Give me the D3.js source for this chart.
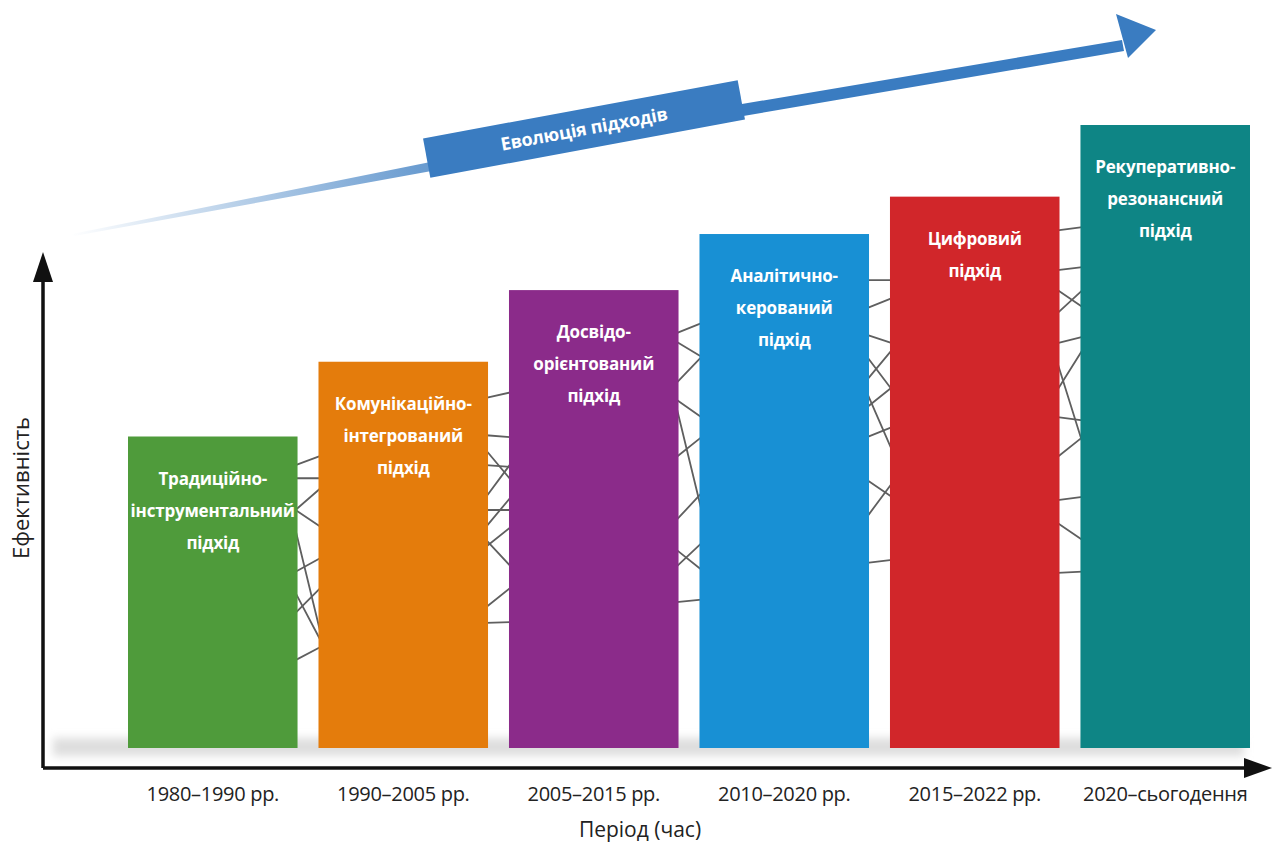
<!DOCTYPE html>
<html>
  <head>
    <meta charset="utf-8">
    <title>Еволюція підходів</title>
    <script src="https://d3js.org/d3.v7.min.js"></script>
    <style>
      body { margin: 0; background: #fff; }
      .bar-label { font-family: "Open Sans", sans-serif; font-weight: 700; font-size: 17px; letter-spacing: -0.2px; fill: #fff; }
      .tick text { font-family: "Open Sans", sans-serif; font-size: 20px; letter-spacing: -0.3px; fill: #222; }
      .axis-label { font-family: "Open Sans", sans-serif; font-size: 21px; fill: #222; }
    </style>
  </head>
  <body>
    <div id="chart"></div>
    <script>
      // Data
      const periods = ["1980–1990 рр.", "1990–2005 рр.", "2005–2015 рр.", "2010–2020 рр.", "2015–2022 рр.", "2020–сьогодення"];
      const approaches = [
        ["Традиційно-", "інструментальний", "підхід"],
        ["Комунікаційно-", "інтегрований", "підхід"],
        ["Досвідо-", "орієнтований", "підхід"],
        ["Аналітично-", "керований", "підхід"],
        ["Цифровий", "підхід"],
        ["Рекуперативно-", "резонансний", "підхід"]
      ];
      const efficiency = [50, 62, 73.5, 82.5, 88.5, 100];
      const palette = ["#4f9b3b", "#e47c0c", "#8b2b8a", "#1890d4", "#d1262a", "#0e8585"];

      // connecting lines in each gap: [efficiency at left bar, efficiency at right bar]
      const links = [
        [[45.4, 46.9], [43.3, 43.3], [38.2, 41.7], [38.2, 35.5], [28.3, 30.5], [35.0, 18.5], [21.7, 25.7], [24.9, 17.3], [14.1, 16.2]],
        [[56.2, 57.1], [50.2, 49.9], [45.4, 45.1], [47.8, 43.0], [40.3, 45.7], [38.2, 38.2], [35.5, 40.3], [32.3, 35.5], [33.4, 29.1], [22.6, 25.8], [20.1, 20.2]],
        [[66.6, 68.2], [65.2, 62.8], [58.6, 62.8], [55.9, 53.1], [54.7, 38.2], [46.7, 49.9], [36.6, 40.9], [31.8, 28.6], [29.1, 32.9], [23.4, 23.8]],
        [[75.1, 75.1], [70.6, 72.2], [66.3, 65.0], [59.1, 63.9], [62.8, 57.5], [54.7, 57.9], [49.9, 51.5], [57.0, 47.8], [43.0, 40.3], [37.1, 42.5], [29.7, 30.2]],
        [[83.1, 83.6], [76.7, 77.2], [69.8, 73.5], [73.5, 70.8], [65.0, 66.0], [57.5, 63.9], [61.8, 49.0], [53.1, 52.6], [46.7, 49.9], [39.8, 40.3], [36.1, 33.4], [28.1, 28.3]]
      ];

      const W = 1274, H = 843;
      const axisX = 43, axisY = 768;

      const svg = d3.select("#chart").append("svg")
        .attr("width", W)
        .attr("height", H);

      const defs = svg.append("defs");
      const blur = defs.append("filter").attr("id", "blur").attr("x", "-5%").attr("y", "-100%").attr("width", "110%").attr("height", "300%");
      blur.append("feGaussianBlur").attr("stdDeviation", 4);

      const grad = defs.append("linearGradient").attr("id", "evo")
        .attr("gradientUnits", "userSpaceOnUse")
        .attr("x1", 70).attr("y1", 232).attr("x2", 700).attr("y2", 110);
      grad.append("stop").attr("offset", 0).attr("stop-color", "#3a7cc1").attr("stop-opacity", 0);
      grad.append("stop").attr("offset", 0.55).attr("stop-color", "#3a7cc1").attr("stop-opacity", 0.75);
      grad.append("stop").attr("offset", 1).attr("stop-color", "#3a7cc1").attr("stop-opacity", 1);

      // Scales
      const x = d3.scaleBand()
        .domain(periods)
        .range([128, 1250])
        .paddingInner(0.11)
        .paddingOuter(0);
      const y = d3.scaleLinear().domain([0, 100]).range([748, 125]);
      const color = d3.scaleOrdinal().domain(periods).range(palette);

      // Floor shadow
      svg.append("rect")
        .attr("x", axisX + 10)
        .attr("y", y(0) - 10)
        .attr("width", W - axisX - 40)
        .attr("height", 18)
        .attr("fill", "#dedede")
        .attr("filter", "url(#blur)");

      // Connecting lines
      const linkG = svg.append("g").attr("stroke", "#5f5f5f").attr("stroke-width", 1.8).attr("stroke-linecap", "round");
      links.forEach((gap, i) => {
        const x0 = x(periods[i]) + x.bandwidth() - 2;
        const x1 = x(periods[i + 1]) + 2;
        linkG.selectAll(null)
          .data(gap)
          .enter()
          .append("line")
          .attr("x1", x0)
          .attr("y1", (d) => y(d[0]))
          .attr("x2", x1)
          .attr("y2", (d) => y(d[1]));
      });

      // Bars
      svg.selectAll("rect.bar")
        .data(periods)
        .enter()
        .append("rect")
        .attr("class", "bar")
        .attr("x", (d) => x(d))
        .attr("y", (d, i) => y(efficiency[i]))
        .attr("width", x.bandwidth())
        .attr("height", (d, i) => y(0) - y(efficiency[i]))
        .attr("fill", (d) => color(d));

      // Bar labels
      periods.forEach((p, i) => {
        const t = svg.append("text")
          .attr("class", "bar-label")
          .attr("text-anchor", "middle")
          .attr("x", x(p) + x.bandwidth() / 2)
          .attr("y", y(efficiency[i]) + 48);
        approaches[i].forEach((line, j) => {
          t.append("tspan")
            .attr("x", x(p) + x.bandwidth() / 2)
            .attr("dy", j === 0 ? 0 : 32)
            .text(line);
        });
      });

      // X axis labels
      const xAxis = svg.append("g")
        .attr("transform", `translate(0, ${axisY})`)
        .call(d3.axisBottom(x).tickSize(0).tickPadding(19));
      xAxis.select(".domain").remove();

      // Axis lines with arrowheads
      svg.append("path")
        .attr("d", `M${axisX},${axisY}H${W - 24}M${axisX},${axisY}V${y(0) - 470}`)
        .attr("fill", "none")
        .attr("stroke", "#111")
        .attr("stroke-width", 3.5);
      svg.append("path")
        .attr("d", `M${W - 2},${axisY}L${W - 30},${axisY - 10}L${W - 30},${axisY + 10}Z`)
        .attr("fill", "#111");
      svg.append("path")
        .attr("d", `M${axisX},${y(0) - 496}L${axisX - 10},${y(0) - 466}L${axisX + 10},${y(0) - 466}Z`)
        .attr("fill", "#111");

      // Axis titles
      svg.append("text")
        .attr("class", "axis-label")
        .attr("x", 640)
        .attr("y", 837)
        .attr("text-anchor", "middle")
        .text("Період (час)");
      svg.append("text")
        .attr("class", "axis-label")
        .attr("transform", `translate(29, 488) rotate(-90)`)
        .attr("text-anchor", "middle")
        .style("font-size", "22px")
        .text("Ефективність");

      // Evolution arrow
      const evo = svg.append("g");
      evo.append("path")
        .attr("d", "M72,234 L600,128 L1122,40 L1124,51 L602,140 L74,236 Z")
        .attr("fill", "url(#evo)");
      evo.append("path")
        .attr("d", "M1156,30 L1116,14 L1128,58 Z")
        .attr("fill", "#3a7cc1");
      const banner = evo.append("g").attr("transform", "translate(584,129) rotate(-10.5)");
      banner.append("rect")
        .attr("x", -160)
        .attr("y", -20)
        .attr("width", 320)
        .attr("height", 40)
        .attr("fill", "#3a7cc1");
      banner.append("text")
        .attr("class", "bar-label")
        .attr("text-anchor", "middle")
        .attr("dy", "0.35em")
        .style("font-size", "18px")
        .text("Еволюція підходів");
    </script>
  </body>
</html>
